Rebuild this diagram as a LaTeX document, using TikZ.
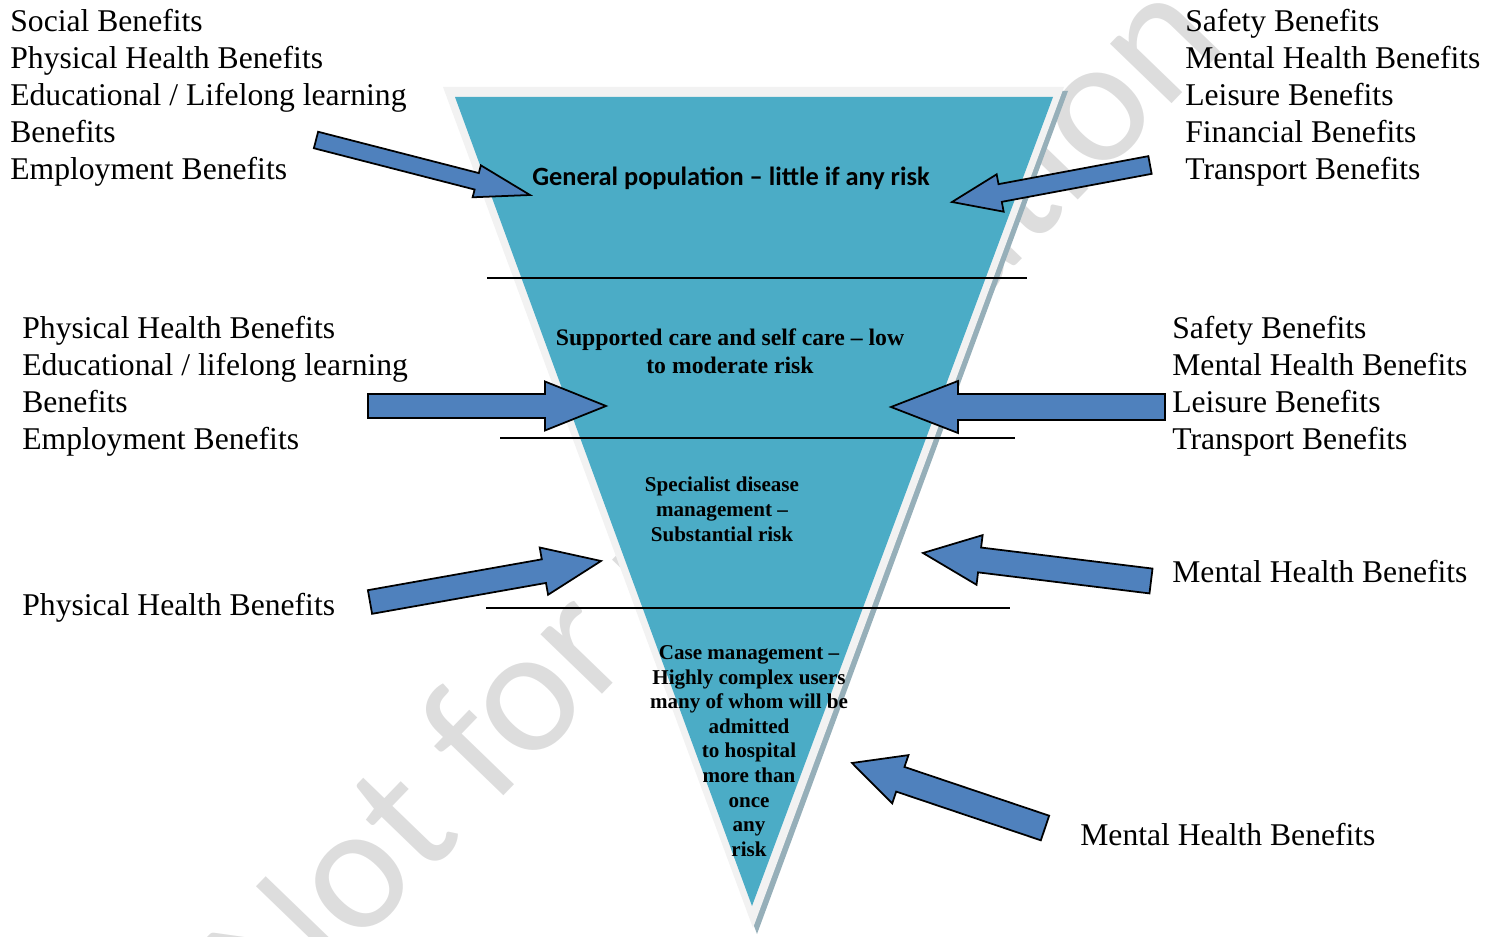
\documentclass[tikz,border=0pt]{standalone}
\usepackage{fontspec}
\setmainfont{Liberation Serif}
\newfontfamily\calibri[Ligatures=TeX]{Carlito}
\usetikzlibrary{calc}
\definecolor{tierblue}{HTML}{4BACC6}
\definecolor{arrowblue}{HTML}{4F81BD}
\definecolor{rimgray}{HTML}{F2F2F2}
\definecolor{rimshade}{RGB}{150,175,185}
\tikzstyle{benefits} = [align=left, anchor=north west, inner sep=0pt, font=\fontsize{18}{21}\selectfont]
\tikzstyle{tier} = [align=center, inner sep=0pt]
\tikzstyle{arrowbox} = [fill=arrowblue, draw=black, line width=1pt, line join=miter]
\tikzstyle{divider} = [line width=0.8pt]
% tail, tip, half shaft, half head, head length
\newcommand{\bigarrow}[5]{%
  \coordinate (hb) at ($(#2)!#5!(#1)$);
  \path[arrowbox] ($(#1)!#3!90:(#2)$) -- ($(hb)!#3!90:(#2)$) -- ($(hb)!#4!90:(#2)$) -- (#2)
    -- ($(hb)!#4!-90:(#2)$) -- ($(hb)!#3!-90:(#2)$) -- ($(#1)!#3!-90:(#2)$) -- cycle;
}

\begin{document}
\begin{tikzpicture}
\useasboundingbox (0,0) rectangle (29.98,18.72);
% watermark
\node[rotate=46, text=gray!27, font=\calibri\fontsize{102}{102}\selectfont] (mark) at (14.38,8.64) {Not for publication};
% inverted triangle
\fill[rimshade] (8.94,16.90) -- (21.36,16.90) -- (15.14,0.04) -- cycle;
\fill[rimgray] (8.86,16.98) -- (21.28,16.98) -- (15.06,0.16) -- cycle;
\fill[tierblue] (9.10,16.78) -- (21.06,16.78) -- (15.04,0.60) -- cycle;
\draw[divider] (9.74,13.16) -- (20.54,13.16);
\draw[divider] (10.00,9.96) -- (20.30,9.96);
\draw[divider] (9.72,6.56) -- (20.20,6.56);
% tiers
\node[tier, font=\calibri\bfseries\fontsize{15}{18}\selectfont] (general) at (14.62,15.16) {General population -- little if any risk};
\node[tier, font=\bfseries\fontsize{13.5}{16.2}\selectfont] (supported) at (14.60,11.70) {Supported care and self care -- low\\to moderate risk};
\node[tier, font=\bfseries\fontsize{12}{14.2}\selectfont] (specialist) at (14.44,8.54) {Specialist disease\\management --\\Substantial risk};
\node[tier, font=\bfseries\fontsize{12}{14}\selectfont] (case) at (14.98,3.70) {Case management --\\Highly complex users\\many of whom will be\\admitted\\to hospital\\more than\\once\\any\\risk};
% benefits
\node[benefits] (genL) at (0.20,18.54) {Social Benefits\\Physical Health Benefits\\Educational / Lifelong learning\\Benefits\\Employment Benefits};
\node[benefits] (genR) at (23.70,18.54) {Safety Benefits\\Mental Health Benefits\\Leisure Benefits\\Financial Benefits\\Transport Benefits};
\node[benefits] (supL) at (0.44,12.40) {Physical Health Benefits\\Educational / lifelong learning\\Benefits\\Employment Benefits};
\node[benefits] (supR) at (23.44,12.40) {Safety Benefits\\Mental Health Benefits\\Leisure Benefits\\Transport Benefits};
\node[benefits] (speL) at (0.44,6.86) {Physical Health Benefits};
\node[benefits] (speR) at (23.44,7.52) {Mental Health Benefits};
\node[benefits] (casR) at (21.60,2.26) {Mental Health Benefits};
% arrows
\coordinate (genL-tail) at (6.32,15.92);
\coordinate (genL-tip) at (10.60,14.82);
\coordinate (genR-tail) at (23.00,15.42);
\coordinate (genR-tip) at (19.04,14.68);
\coordinate (supL-tail) at (7.36,10.60);
\coordinate (supL-tip) at (12.12,10.60);
\coordinate (supR-tail) at (23.30,10.58);
\coordinate (supR-tip) at (17.82,10.58);
\coordinate (speL-tail) at (7.40,6.68);
\coordinate (speL-tip) at (12.02,7.50);
\coordinate (speR-tail) at (23.02,7.10);
\coordinate (speR-tip) at (18.46,7.66);
\coordinate (casR-tail) at (20.90,2.16);
\coordinate (casR-tip) at (17.04,3.46);
\bigarrow{genL-tail}{genL-tip}{0.17cm}{0.33cm}{1.10cm}
\bigarrow{genR-tail}{genR-tip}{0.18cm}{0.38cm}{0.98cm}
\bigarrow{supL-tail}{supL-tip}{0.24cm}{0.49cm}{1.22cm}
\bigarrow{supR-tail}{supR-tip}{0.26cm}{0.52cm}{1.34cm}
\bigarrow{speL-tail}{speL-tip}{0.24cm}{0.48cm}{1.16cm}
\bigarrow{speR-tail}{speR-tip}{0.25cm}{0.50cm}{1.14cm}
\bigarrow{casR-tail}{casR-tip}{0.26cm}{0.51cm}{1.02cm}
\end{tikzpicture}
\end{document}
